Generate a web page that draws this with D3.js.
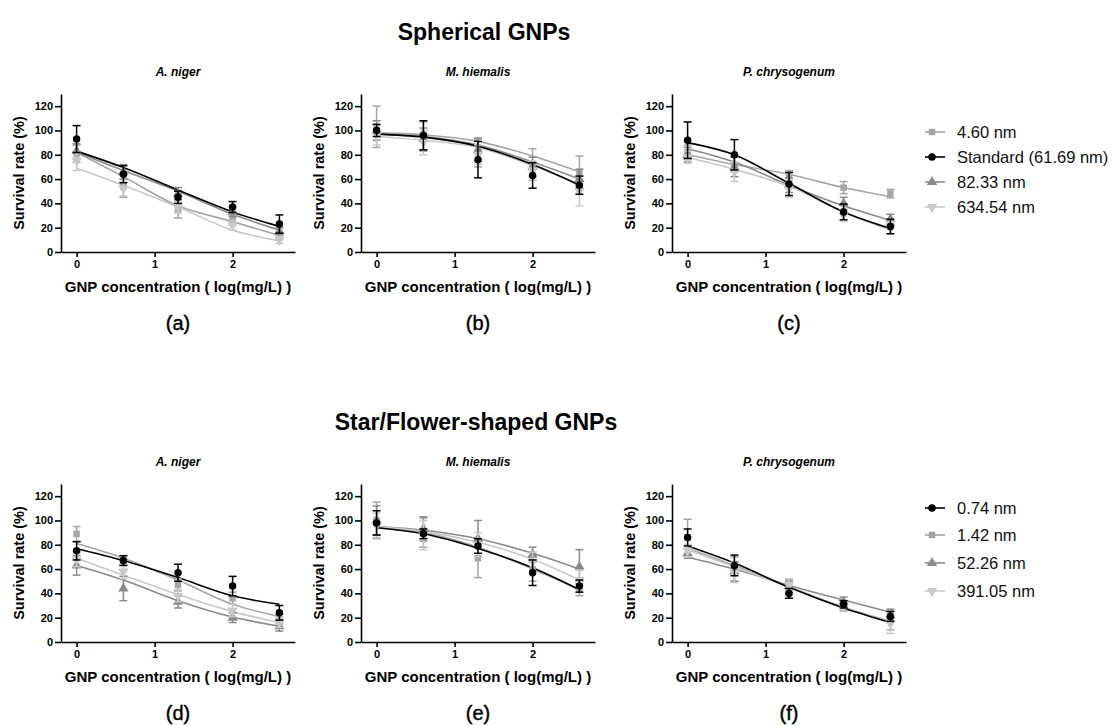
<!DOCTYPE html>
<html>
  <head>
    <meta charset="utf-8" />
    <style>
      body { margin: 0; background: #fff; }
      text { font-family: Arial, "Liberation Sans", sans-serif; }
    </style>
  </head>
  <body>

<svg id="graph"></svg>

<script src="https://d3js.org/d3.v7.min.js"></script>
<script>
  // x values: log10 of 1, 4, 20, 100, 400 mg/L
  const concLog = [0, 0.6, 1.3, 2, 2.6];
  const xTicks = [0, 1, 2];
  const yTicks = [0, 20, 40, 60, 80, 100, 120];
  const species = ['A. niger', 'M. hiemalis', 'P. chrysogenum'];
  const groupTitles = ['Spherical GNPs', 'Star/Flower-shaped GNPs'];
  const panelLetters = [['(a)', '(b)', '(c)'], ['(d)', '(e)', '(f)']];
  const sphNames = ['4.60 nm', 'Standard (61.69 nm)', '82.33 nm', '634.54 nm'];
  const starNames = ['0.74 nm', '1.42 nm', '52.26 nm', '391.05 nm'];

  // Spherical, series order = sphNames
  const aMean = [[81, 54, 35, 26, 13], [93, 64, 45, 37, 23], [83, 66, 48, 33, 17], [75, 52, 37, 22, 10]];
  const aSd   = [[7, 9, 7, 4, 3], [11, 7, 5, 4.5, 7.5], [6, 6, 5, 4, 3], [8, 6, 5, 4, 3]];
  const aFit  = [[82, 62, 38, 25, 13.5], [83, 69.5, 51, 33, 21], [82, 67, 50, 31, 18], [69, 55, 37, 18, 9]];

  const bMean = [[103, 95, 82, 72, 66], [100, 96, 76, 63, 55], [100, 93, 84, 70, 60], [96, 90, 80, 67, 50]];
  const bSd   = [[17, 12, 12, 13, 13], [5, 12, 15, 10.5, 7.5], [8, 9, 9, 8, 8], [8, 10, 8, 8, 12]];
  const bFit  = [[98, 96.5, 91, 79, 66], [97, 94.5, 87, 72, 55], [97, 95, 88, 74, 60], [95, 92, 86, 71, 56]];

  const cMean = [[82, 72, 63, 53, 48], [92, 80, 56, 33, 21], [80, 70, 55, 40, 27], [78, 66, 52, 30, 20]];
  const cSd   = [[6, 6, 4, 5, 3.5], [15, 12.5, 9.5, 6.5, 6], [6, 8, 6, 5, 4], [5, 8, 7, 5, 5]];
  const cFit  = [[80, 72, 64, 53, 45.5], [90, 80, 56.5, 33, 19.5], [85, 74, 55, 38, 26], [78, 68, 54, 33, 18]];

  // Star/Flower-shaped, series order = starNames
  const dMean = [[75, 67, 57, 46, 24], [89, 67, 47, 36, 19], [63, 44, 33, 20, 13], [68, 58, 38, 26, 16]];
  const dSd   = [[7.5, 4, 7, 8, 6], [6, 4, 5, 5, 4], [8, 10, 5, 4, 4], [6, 6, 5, 5, 4]];
  const dFit  = [[77, 67, 53, 38, 31], [81, 69, 51, 31, 21], [63, 51, 34, 20.5, 13], [69, 55, 39, 25, 16]];

  const eMean = [[98, 89, 79, 57, 46], [100, 90, 69, 60, 44], [100, 93, 85, 72, 62], [96, 88, 80, 66, 51]];
  const eSd   = [[10, 4, 6, 10.5, 5], [15, 12, 16, 10, 6], [12, 10, 15, 6, 14], [10, 12, 10, 8, 8]];
  const eFit  = [[94, 89, 77, 61, 43], [95, 90, 78, 60, 43], [95, 92, 85, 73, 60], [95, 91, 82, 68, 51]];

  const fMean = [[86, 63, 40, 31, 21], [86, 60, 45, 30, 18], [73, 58, 46, 33, 22], [75, 57, 47, 29, 15]];
  const fSd   = [[7, 8.5, 4, 3, 4], [15, 10, 5, 4, 8], [4, 8, 5, 4, 5], [5, 8, 5, 4, 8]];
  const fFit  = [[79, 65, 45, 28, 16], [77, 63, 45.5, 28.5, 17], [70, 60, 46.5, 34.5, 24.5], [76, 62, 45, 28, 17]];

  // styles (marker + colour) per series
  const SQ = { shape: 'square', color: '#a5a5a5' };
  const CI = { shape: 'circle', color: '#000000' };
  const TU = { shape: 'triUp', color: '#8a8a8a' };
  const TD = { shape: 'triDown', color: '#c9c9c9' };
  const sphStyle = [SQ, CI, TU, TD];
  const starStyle = [CI, SQ, TU, TD];

  const WIDTH = 1113, HEIGHT = 726;
  const PANEL_LEFT = [61, 361, 672];
  const PLOT_W = 234;
  const ROW_BOTTOM = [252, 642];
  const PLOT_H = 158;

  const svg = d3.select('#graph').attr('width', WIDTH).attr('height', HEIGHT);

  const rows = [
    { names: sphNames, style: sphStyle, panels: [[aMean, aSd, aFit], [bMean, bSd, bFit], [cMean, cSd, cFit]],
      titleX: 484, titleY: 40, subY: 76, letterY: 330, legendY: [132, 157, 182, 207] },
    { names: starNames, style: starStyle, panels: [[dMean, dSd, dFit], [eMean, eSd, eFit], [fMean, fSd, fFit]],
      titleX: 476, titleY: 430, subY: 466, letterY: 720, legendY: [508, 535, 563, 591] },
  ];

  function symbolPath(shape) {
    if (shape === 'circle') return d3.symbol(d3.symbolCircle, 44)();
    if (shape === 'square') return d3.symbol(d3.symbolSquare, 42)();
    return d3.symbol(d3.symbolTriangle, 46)();
  }
  function symbolTransform(shape, x, y) {
    return `translate(${x},${y})` + (shape === 'triDown' ? ' rotate(180)' : '');
  }

  rows.forEach((row, r) => {
    const bottom = ROW_BOTTOM[r];

    svg.append('text')
      .attr('x', row.titleX).attr('y', row.titleY)
      .attr('text-anchor', 'middle')
      .style('font-size', '23px').style('font-weight', 'bold')
      .text(groupTitles[r]);

    row.panels.forEach((p, k) => {
      const [means, sds, fits] = p;
      const left = PANEL_LEFT[k];
      const x = d3.scaleLinear().domain([-0.2, 2.8]).range([left, left + PLOT_W]);
      const y = d3.scaleLinear().domain([0, 130]).range([bottom, bottom - PLOT_H]);
      const g = svg.append('g');

      g.append('text')
        .attr('x', left + PLOT_W / 2).attr('y', row.subY)
        .attr('text-anchor', 'middle')
        .style('font-size', '12px').style('font-weight', 'bold').style('font-style', 'italic')
        .text(species[k]);

      // axes
      const xa = g.append('g').attr('transform', `translate(0,${bottom})`)
        .call(d3.axisBottom(x).tickValues(xTicks).tickFormat(d3.format('d')).tickSize(5).tickPadding(3).tickSizeOuter(0));
      const ya = g.append('g').attr('transform', `translate(${left},0)`)
        .call(d3.axisLeft(y).tickValues(yTicks).tickSize(6).tickPadding(2).tickSizeOuter(0));
      [xa, ya].forEach(a => {
        a.select('.domain').attr('stroke-width', 1.6);
        a.selectAll('.tick line').attr('stroke-width', 1.6);
        a.selectAll('.tick text').style('font-size', '11px').style('font-weight', 'bold')
          .style('font-family', 'Arial, "Liberation Sans", sans-serif').attr('fill', '#000');
      });

      g.append('text')
        .attr('x', left + PLOT_W / 2).attr('y', bottom + 40)
        .attr('text-anchor', 'middle')
        .style('font-size', '15px').style('font-weight', 'bold')
        .text('GNP concentration ( log(mg/L) )');
      g.append('text')
        .attr('transform', `translate(${left - 37},${bottom - PLOT_H / 2}) rotate(-90)`)
        .attr('text-anchor', 'middle')
        .style('font-size', '14.5px').style('font-weight', 'bold')
        .text('Survival rate (%)');

      g.append('text')
        .attr('x', left + PLOT_W / 2).attr('y', row.letterY)
        .attr('text-anchor', 'middle')
        .style('font-size', '20px').attr('stroke', '#000').attr('stroke-width', 0.4)
        .text(panelLetters[r][k]);

      // draw grey series first, black on top
      const order = d3.range(4).sort((i, j) => (row.style[i].color === '#000000') - (row.style[j].color === '#000000'));
      const line = d3.line().x((d, i) => x(concLog[i])).y(d => y(d)).curve(d3.curveMonotoneX);

      order.forEach(s => {
        const st = row.style[s];
        g.append('path').datum(fits[s])
          .attr('d', line).attr('fill', 'none')
          .attr('stroke', st.color).attr('stroke-width', 1.6);
      });
      order.forEach(s => {
        const st = row.style[s];
        const sg = g.append('g').attr('stroke', st.color).attr('stroke-width', 1.5);
        means[s].forEach((m, i) => {
          const cx = x(concLog[i]);
          const y1 = y(m + sds[s][i]), y0 = y(m - sds[s][i]);
          sg.append('line').attr('x1', cx).attr('x2', cx).attr('y1', y1).attr('y2', y0);
          sg.append('line').attr('x1', cx - 4).attr('x2', cx + 4).attr('y1', y1).attr('y2', y1);
          sg.append('line').attr('x1', cx - 4).attr('x2', cx + 4).attr('y1', y0).attr('y2', y0);
        });
        g.selectAll(null).data(means[s]).enter().append('path')
          .attr('d', symbolPath(st.shape))
          .attr('transform', (d, i) => symbolTransform(st.shape, x(concLog[i]), y(d)))
          .attr('fill', st.color);
      });
    });

    // legend
    row.names.forEach((name, s) => {
      const st = row.style[s];
      const ly = row.legendY[s];
      svg.append('line').attr('x1', 925).attr('x2', 945).attr('y1', ly).attr('y2', ly)
        .attr('stroke', st.color).attr('stroke-width', 1.6);
      svg.append('path').attr('d', symbolPath(st.shape))
        .attr('transform', symbolTransform(st.shape, 932, ly)).attr('fill', st.color);
      svg.append('text').attr('x', 957).attr('y', ly + 5.5)
        .style('font-size', '16.5px').attr('fill', '#111')
        .text(name);
    });
  });
</script>
  </body>
</html>
